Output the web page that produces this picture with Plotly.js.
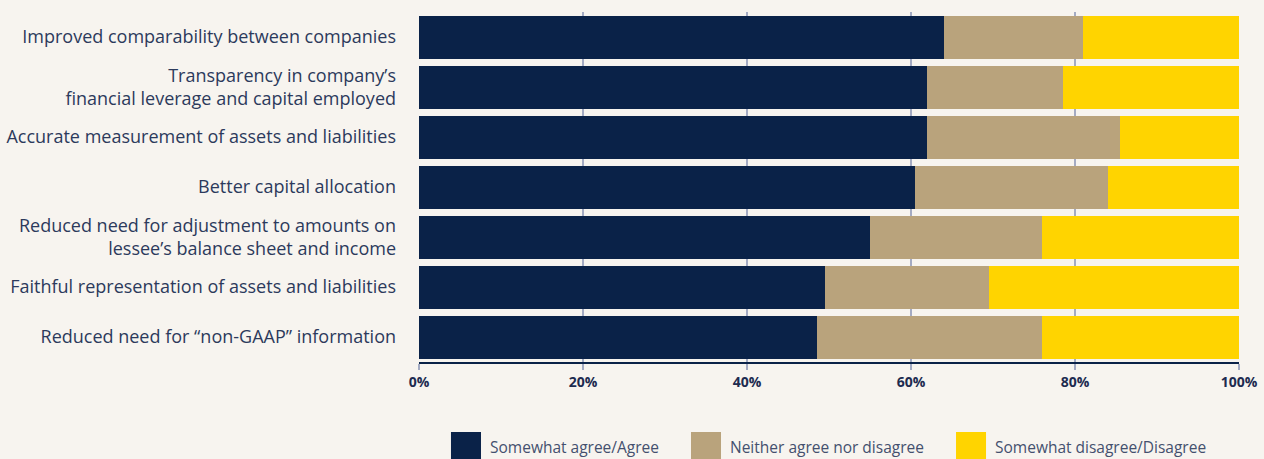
<!DOCTYPE html>
<html>
<head>
<meta charset="utf-8">
<script src="https://cdn.plot.ly/plotly-3.0.1.min.js"></script>
<style>
  html, body { margin: 0; padding: 0; background: #f7f4ef; }
  #chart { width: 1264px; height: 459px; }
</style>
</head>
<body>
<div id="chart"></div>
<script>
const categories = [
  "Improved comparability between companies",
  "Transparency in company’s<br>financial leverage and capital employed",
  "Accurate measurement of assets and liabilities",
  "Better capital allocation",
  "Reduced need for adjustment to amounts on<br>lessee’s balance sheet and income",
  "Faithful representation of assets and liabilities",
  "Reduced need for “non-GAAP” information"
];
const seriesNames = ["Somewhat agree/Agree", "Neither agree nor disagree", "Somewhat disagree/Disagree"];
const agree    = [64, 62, 62, 60.5, 55, 49.5, 48.5];
const neither  = [17, 16.5, 23.5, 23.5, 21, 20, 27.5];
const disagree = [19, 21.5, 14.5, 16, 24, 30.5, 24];
const tickVals = [0, 20, 40, 60, 80, 100];
const tickText = ["0%", "20%", "40%", "60%", "80%", "100%"];

const colors = ["#0a2248", "#b9a37c", "#ffd400"];
const values = [agree, neither, disagree];

const traces = values.map((v, i) => ({
  type: "bar",
  orientation: "h",
  name: seriesNames[i],
  x: v,
  y: categories,
  marker: { color: colors[i], line: { width: 0 } },
  hoverinfo: "x+name"
}));

// custom legend (large square swatches)
const legX = [0.039, 0.3317, 0.6549];
const shapes = seriesNames.map((n, i) => ({
  type: "rect", xref: "paper", yref: "paper",
  x0: legX[i], x1: legX[i] + 0.0366, y0: -0.32, y1: -0.2,
  fillcolor: colors[i], line: { width: 0 }
}));
const annotations = seriesNames.map((n, i) => ({
  xref: "paper", yref: "paper", x: legX[i] + 0.0456, y: -0.243,
  xanchor: "left", yanchor: "middle", showarrow: false, text: n,
  font: { family: "'Open Sans', sans-serif", size: 15.5, color: "#44506e" }
}));

const layout = {
  width: 1264, height: 459,
  paper_bgcolor: "#f7f4ef", plot_bgcolor: "#f7f4ef",
  margin: { l: 419, r: 25, t: 12, b: 97 },
  barmode: "stack",
  bargap: 0.14,
  showlegend: false,
  xaxis: {
    range: [0, 100], tickvals: tickVals, ticktext: tickText,
    showgrid: true, gridcolor: "#a4abc3", gridwidth: 1.5,
    zeroline: false,
    showline: true, linecolor: "#0a2248", linewidth: 2,
    ticks: "outside", ticklen: 6, tickcolor: "#a4abc3", tickwidth: 1.5,
    tickfont: { family: "'Open Sans', sans-serif", size: 14, color: "#1d2b4f", weight: "bold" },
    fixedrange: true
  },
  yaxis: {
    autorange: "reversed",
    showgrid: false, zeroline: false, showline: false,
    ticks: "", ticklabelstandoff: 22,
    tickfont: { family: "'Open Sans', sans-serif", size: 18, color: "#2c3a5c" },
    fixedrange: true
  },
  shapes: shapes,
  annotations: annotations
};

Plotly.newPlot("chart", traces, layout, { displayModeBar: false, staticPlot: true });
</script>
</body>
</html>
